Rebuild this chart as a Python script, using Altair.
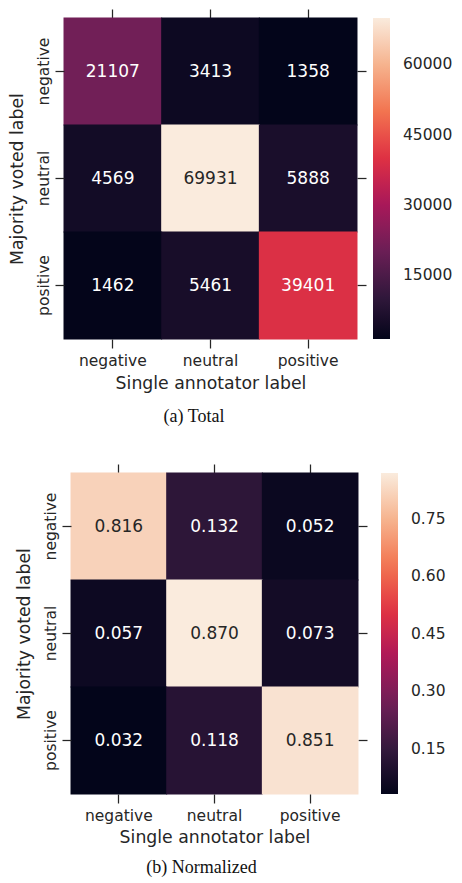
import altair as alt
import pandas as pd

labels = ["negative", "neutral", "positive"]
total_values = [
    [21107, 3413, 1358],
    [4569, 69931, 5888],
    [1462, 5461, 39401],
]
norm_values = [
    [0.816, 0.132, 0.052],
    [0.057, 0.870, 0.073],
    [0.032, 0.118, 0.851],
]
total_ticks = [15000, 30000, 45000, 60000]
norm_ticks = [0.15, 0.30, 0.45, 0.60, 0.75]
rocket = ["#03051a", "#35193e", "#701f57", "#ad1759",
          "#e13342", "#f37651", "#f6b48f", "#faebdd"]

INK = "#262626"
FONT = "DejaVu Sans"


def heatmap(values, fmt, lfmt, ticks, width, height, legend_x, caption, cap_dx,
            title_pad, xtitle_pad, cap_offset):
    rows = []
    for i, r in enumerate(labels):
        for j, c in enumerate(labels):
            rows.append({"true": r, "pred": c, "value": values[i][j]})
    df = pd.DataFrame(rows)
    vmin = min(min(r) for r in values)
    vmax = max(max(r) for r in values)
    n = len(rocket) - 1
    domain = [vmin + k * (vmax - vmin) / n for k in range(n + 1)]
    thr = vmin + 0.78 * (vmax - vmin)

    band = alt.Scale(paddingInner=0, paddingOuter=0)
    cscale = alt.Scale(domain=domain, range=rocket, interpolate="rgb")
    common_axis = dict(domain=False, grid=False, tickSize=9, tickWidth=1.25,
                       tickColor=INK)

    rect = alt.Chart(df).mark_rect(
        width=alt.RelativeBandSize(1.01), height=alt.RelativeBandSize(1.01)
    ).encode(
        x=alt.X("pred:N", sort=labels, scale=band,
                axis=alt.Axis(orient="bottom", title="Single annotator label",
                              labelAngle=0, labelPadding=5, labelFont=FONT,
                              labelFontSize=15.5, labelColor=INK,
                              titleFont=FONT, titleFontSize=17.3,
                              titleFontWeight="normal", titleColor=INK,
                              titlePadding=xtitle_pad, **common_axis)),
        y=alt.Y("true:N", sort=labels, scale=band,
                axis=alt.Axis(orient="left", title="Majority voted label",
                              labelAngle=-90, labelAlign="center",
                              labelBaseline="alphabetic", labelPadding=7,
                              labelFont=FONT, labelFontSize=15.5, labelColor=INK,
                              titleFont=FONT, titleFontSize=17.3,
                              titleFontWeight="normal", titleColor=INK,
                              titlePadding=title_pad, **common_axis)),
        color=alt.Color("value:Q", scale=cscale,
                        legend=alt.Legend(type="gradient", orient="none",
                                          legendX=legend_x, legendY=0,
                                          direction="vertical", title=None, padding=0,
                                          gradientLength=height, gradientThickness=17,
                                          gradientStrokeWidth=0, values=ticks,
                                          format=lfmt, labelFont=FONT,
                                          labelFontSize=15.5, labelColor=INK,
                                          labelOffset=13)),
    )

    text = alt.Chart(df).mark_text(font=FONT, fontSize=17, baseline="middle").encode(
        x=alt.X("pred:N", sort=labels,
                axis=alt.Axis(orient="top", labels=False, title=None, **common_axis)),
        y=alt.Y("true:N", sort=labels,
                axis=alt.Axis(orient="right", labels=False, title=None, **common_axis)),
        text=alt.Text("value:Q", format=fmt),
        color=alt.condition(f"datum.value > {thr}", alt.value(INK), alt.value("#ffffff")),
    )

    return alt.layer(rect, text).resolve_axis(x="independent", y="independent").properties(
        width=width, height=height,
        title=alt.TitleParams(text=caption, orient="bottom", anchor="middle",
                              frame="group", font="Liberation Serif", fontSize=18,
                              fontWeight="normal", color="#111111",
                              offset=cap_offset, dx=cap_dx),
    )


top = heatmap(total_values, "d", "d", total_ticks, 293, 321, 309, "(a) Total",
              -16.5, 10, 6, 16)
bottom = heatmap(norm_values, ".3f", ".2f", norm_ticks, 287, 321, 310, "(b) Normalized",
                 -13, 10, 5, 13)

chart = alt.vconcat(top, bottom, spacing=37, center=True).resolve_scale(
    x="independent", y="independent", color="independent"
).properties(
    padding={"left": 0, "top": 0, "right": 0, "bottom": 0}
).configure_view(stroke=None)

chart.save("out.html", embed_options={"renderer": "svg", "actions": False})
